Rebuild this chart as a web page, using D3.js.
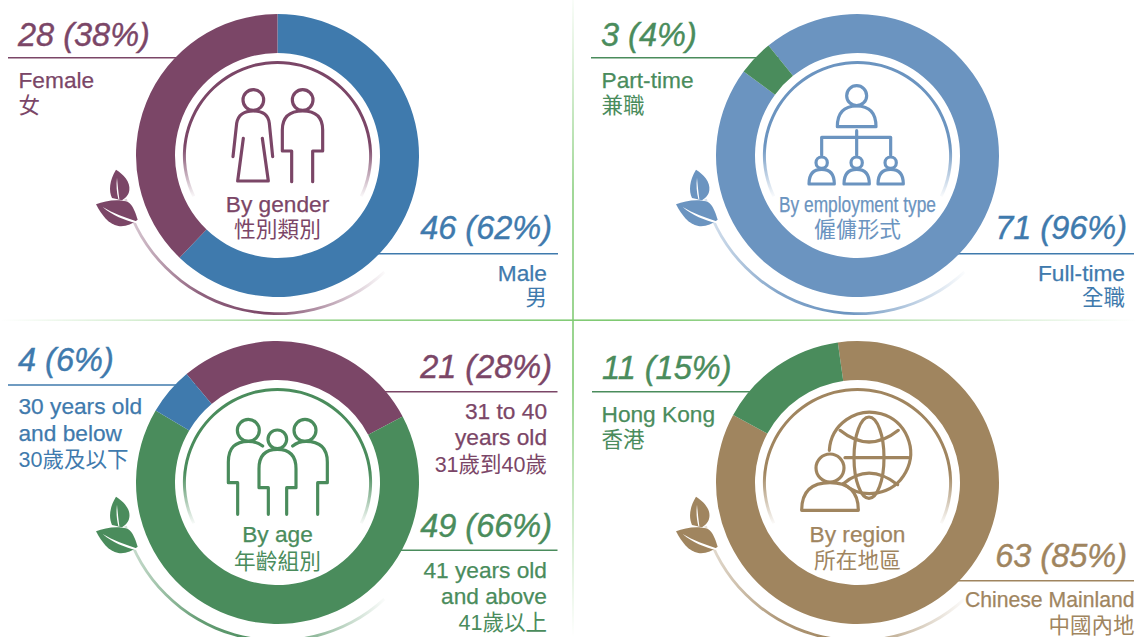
<!DOCTYPE html>
<html><head><meta charset="utf-8">
<script src="https://cdn.jsdelivr.net/npm/d3@7/dist/d3.min.js"></script>
<style>
html,body{margin:0;padding:0;background:#fff;overflow:hidden}
svg{display:block}
text{font-family:"Liberation Sans","Noto Sans CJK TC",sans-serif}
</style></head><body>
<svg id="c" width="1137" height="637"></svg>
<script>
// ---- data ----
const genderKeys = ["male", "female"];
const genderValues = [46, 28];
const genderShares = [62, 38];
const genderLabels = [["Male", "男"], ["Female", "女"]];
const employmentKeys = ["full", "part"];
const employmentValues = [71, 3];
const employmentShares = [96, 4];
const employmentLabels = [["Full-time", "全職"], ["Part-time", "兼職"]];
const ageKeys = ["mid", "old", "young"];
const ageValues = [21, 49, 4];
const ageShares = [28, 66, 6];
const ageLabels = [["31 to 40", "years old", "31歲到40歲"], ["41 years old", "and above", "41歲以上"], ["30 years old", "and below", "30歲及以下"]];
const regionKeys = ["mainland", "hk"];
const regionValues = [63, 11];
const regionShares = [85, 15];
const regionLabels = [["Chinese Mainland", "中國內地"], ["Hong Kong", "香港"]];

// ---- styles & layout ----
const MAROON = "#7b4667", BLUE = "#3f7aad", SKY = "#6b94c0", GREEN = "#4a8c5c", TAN = "#a0855f";
const R0 = 102.5, R1 = 141.5;
const svg = d3.select("#c");
const defs = svg.append("defs");

function lg(id, x1, y1, x2, y2, stops) {
  const g = defs.append("linearGradient").attr("id", id).attr("gradientUnits", "userSpaceOnUse")
    .attr("x1", x1).attr("y1", y1).attr("x2", x2).attr("y2", y2);
  stops.forEach(s => g.append("stop").attr("offset", s[0]).attr("stop-color", s[1]).attr("stop-opacity", s[2]));
  return g;
}
const DIV = "#7ec971";
lg("gv", 573, 0, 573, 637, [[0, DIV, 0.05], [0.3, DIV, 0.9], [0.6, DIV, 1], [1, DIV, 0]]);
lg("gh", 0, 320, 1137, 320, [[0, DIV, 0], [0.3, DIV, 0.8], [0.55, DIV, 1], [0.75, DIV, 0.6], [1, DIV, 0]]);
svg.append("rect").attr("x", 572.2).attr("y", 0).attr("width", 1.6).attr("height", 637).attr("fill", "url(#gv)");
svg.append("rect").attr("x", 0).attr("y", 319.4).attr("width", 1137).attr("height", 1.6).attr("fill", "url(#gh)");

const panels = [
  { id: "gender", cx: 277.5, cy: 155.5, color: MAROON, keys: genderKeys, values: genderValues, shares: genderShares, labels: genderLabels,
    colors: [BLUE, MAROON], start: 0, title: "By gender", sub: "性別類別", tb: 212, sb: 237,
    icon: { x: 220, y: 80, draw: genderIcon },
    callouts: [
      { big: [552, 239], anchor: "end", line: [340, 558, 253.7], tx: 547, ty: [281, 305] },
      { big: [18, 46], anchor: "start", line: [8, 210, 57.7], tx: 18.5, ty: [87.5, 113] }] },
  { id: "employment", cx: 857.5, cy: 155.5, color: SKY, keys: employmentKeys, values: employmentValues, shares: employmentShares, labels: employmentLabels,
    colors: [SKY, GREEN], start: -39, title: "By employment type", sub: "僱傭形式", tb: 212, sb: 237, titleLen: 157,
    icon: { x: 800, y: 80, draw: orgIcon },
    callouts: [
      { big: [1127, 239], anchor: "end", line: [920, 1134, 253.7], tx: 1125, ty: [281, 305], color: BLUE },
      { big: [601, 46], anchor: "start", line: [591, 790, 57.7], tx: 601.5, ty: [87.5, 113] }] },
  { id: "age", cx: 277.5, cy: 482.5, color: GREEN, keys: ageKeys, values: ageValues, shares: ageShares, labels: ageLabels,
    colors: [MAROON, GREEN, BLUE], start: -40, title: "By age", sub: "年齡組別", tb: 541.5, sb: 568.5,
    icon: { x: 220, y: 412, draw: familyIcon },
    callouts: [
      { big: [552, 377.5], anchor: "end", line: [350, 557.5, 391.7], tx: 547, ty: [419, 445, 472] },
      { big: [552, 536.5], anchor: "end", line: [380, 557.5, 550.3], tx: 547, ty: [578, 604, 630] },
      { big: [18, 371], anchor: "start", line: [8, 225, 385], tx: 18.5, ty: [414, 440.7, 466.7] }] },
  { id: "region", cx: 857.5, cy: 482.5, color: TAN, keys: regionKeys, values: regionValues, shares: regionShares, labels: regionLabels,
    colors: [TAN, GREEN], start: -8, title: "By region", sub: "所在地區", tb: 541.5, sb: 568,
    icon: { x: 795, y: 412, draw: globeIcon },
    callouts: [
      { big: [1127, 566.5], anchor: "end", line: [920, 1134, 580.7], tx: 1134.5, ty: [607.3, 633], latin: 21.2 },
      { big: [602, 379], anchor: "start", line: [592, 780, 391.7], tx: 601.5, ty: [421.7, 447] }] }
];

const pieGen = d3.pie().sort(null);
const arcGen = d3.arc().innerRadius(R0).outerRadius(R1);

panels.forEach(p => {
  const rad = a => a * Math.PI / 180;
  const color = d3.scaleOrdinal().domain(p.keys).range(p.colors);

  lg("ring-" + p.id, 0, -10, 0, 43, [[0, p.color, 1], [1, p.color, 0]]);
  lg("sw-" + p.id, -158, 0, 110, 0, [[0, p.color, 0.2], [0.3, p.color, 0.85], [0.55, p.color, 1], [1, p.color, 0]]);

  p.callouts.forEach((c, i) => {
    const col = c.color || p.colors[i];
    svg.append("line").attr("x1", c.line[0]).attr("x2", c.line[1]).attr("y1", c.line[2]).attr("y2", c.line[2])
      .attr("stroke", col).attr("stroke-width", 1.5);
  });

  const g = svg.append("g").attr("transform", `translate(${p.cx},${p.cy})`);
  g.append("path").attr("d", d3.arc()({ innerRadius: 156.8, outerRadius: 159.6, startAngle: rad(137.5), endAngle: rad(254) }))
    .attr("fill", `url(#sw-${p.id})`);

  const pie = pieGen.startAngle(rad(p.start)).endAngle(rad(p.start) + 2 * Math.PI);
  g.selectAll("path.slice").data(pie(p.values)).join("path").attr("class", "slice")
    .attr("d", arcGen).attr("fill", (d, i) => color(p.keys[i]));

  g.append("path").attr("d", d3.arc()({ innerRadius: 91.6, outerRadius: 94.6, startAngle: rad(-116), endAngle: rad(116) }))
    .attr("fill", `url(#ring-${p.id})`);

  const lf = svg.append("g").attr("transform", `translate(${p.cx - 187.5},${p.cy + 9.5}) scale(${1 / 3})`);
  lf.append("path").attr("fill", p.color).attr("d", "M78,14 C100,28 122,50 118,76 C116,90 108,98 96,106 L66,99 C56,78 58,46 78,14 Z");
  lf.append("path").attr("fill", "#fff").attr("d", "M81,38 C78,60 80,82 85,102 L88,102 C85,80 83,60 81,38 Z");
  lf.append("path").attr("fill", p.color).attr("d", "M18,118 C45,108 85,100 115,112 C128,120 135,140 143,164 C125,178 105,186 85,183 C55,178 35,150 18,118 Z");
  lf.append("path").attr("fill", "#fff").attr("d", "M38,126 C70,145 105,158 143,170 L142,175 C105,167 65,150 38,126 Z");

  const ic = svg.append("g").attr("transform", `translate(${p.icon.x},${p.icon.y}) scale(${1 / 3})`)
    .attr("fill", "none").attr("stroke", p.color).attr("stroke-width", 9.5).attr("stroke-linecap", "round").attr("stroke-linejoin", "round");
  p.icon.draw(ic);

  const t = svg.append("text").attr("x", p.cx).attr("y", p.tb).attr("text-anchor", "middle").attr("font-size", 22.7)
    .attr("fill", p.color).attr("stroke", p.color).attr("stroke-width", 0.25).text(p.title);
  if (p.titleLen) t.attr("textLength", p.titleLen).attr("lengthAdjust", "spacingAndGlyphs");
  svg.append("text").attr("x", p.cx).attr("y", p.sb).attr("text-anchor", "middle").attr("font-size", 21.7).attr("fill", p.color).text(p.sub);

  p.callouts.forEach((c, i) => {
    const col = c.color || p.colors[i];
    svg.append("text").attr("x", c.big[0]).attr("y", c.big[1]).attr("text-anchor", c.anchor)
      .attr("font-size", 32.5).attr("font-style", "italic").attr("fill", col).attr("stroke", col).attr("stroke-width", 0.4)
      .text(`${p.values[i]} (${p.shares[i]}%)`);
    p.labels[i].forEach((s, j) => {
      const cjk = /[\u4e00-\u9fff]/.test(s);
      const lab = svg.append("text").attr("x", c.tx).attr("y", c.ty[j]).attr("text-anchor", c.anchor)
        .attr("font-size", cjk ? 21.5 : (c.latin || 22.7)).attr("fill", col).text(s);
      if (!cjk) lab.attr("stroke", col).attr("stroke-width", 0.25);
    });
  });
});

function head(g, x, y, r) { g.append("circle").attr("cx", x).attr("cy", y).attr("r", r); }
function stroke(g, d) { g.append("path").attr("d", d); }

function genderIcon(g) {
  head(g, 100, 60, 31);
  stroke(g, "M39,230 L50,130 Q56,93 100,93 Q144,93 148,130 L158,230");
  stroke(g, "M70,175 L53,303 L145,303 L127,175");
  head(g, 248, 60, 31);
  stroke(g, "M215,305 L215,213 L187,213 L187,150 Q187,93 248,93 Q308,93 308,150 L308,213 L278,213 L278,305");
}
function orgIcon(g) {
  head(g, 170, 47, 30);
  stroke(g, "M112,140 L228,140 Q228,78 170,78 Q112,78 112,140 Z");
  stroke(g, "M170,152 V225 M65,225 V172 H272 V225");
  [65, 170, 272].forEach(x => {
    head(g, x, 248, 17);
    stroke(g, `M${x - 38},312 H${x + 38} Q${x + 38},268 ${x},268 Q${x - 38},268 ${x - 38},312 Z`);
  });
}
function familyIcon(g) {
  head(g, 85, 55, 33);
  stroke(g, "M128,102 Q110,88 85,88 Q25,88 25,150 V212 H53 V307");
  head(g, 255, 55, 33);
  stroke(g, "M218,102 Q235,88 258,88 Q322,88 322,150 V212 H293 V307");
  head(g, 172, 82, 28);
  stroke(g, "M145,307 V227 H117 V170 Q117,112 172,112 Q228,112 228,170 V227 H200 V307");
}
function globeIcon(g) {
  stroke(g, "M103,115 A122,122 0 1 1 145,215");
  g.append("ellipse").attr("cx", 222).attr("cy", 137).attr("rx", 45).attr("ry", 122);
  stroke(g, "M135,55 Q222,125 310,55");
  stroke(g, "M145,215 Q222,150 308,218");
  stroke(g, "M150,137 H340");
  head(g, 105, 168, 42);
  stroke(g, "M20,295 H190 Q190,212 105,212 Q20,212 20,295 Z");
}
</script>
</body></html>
